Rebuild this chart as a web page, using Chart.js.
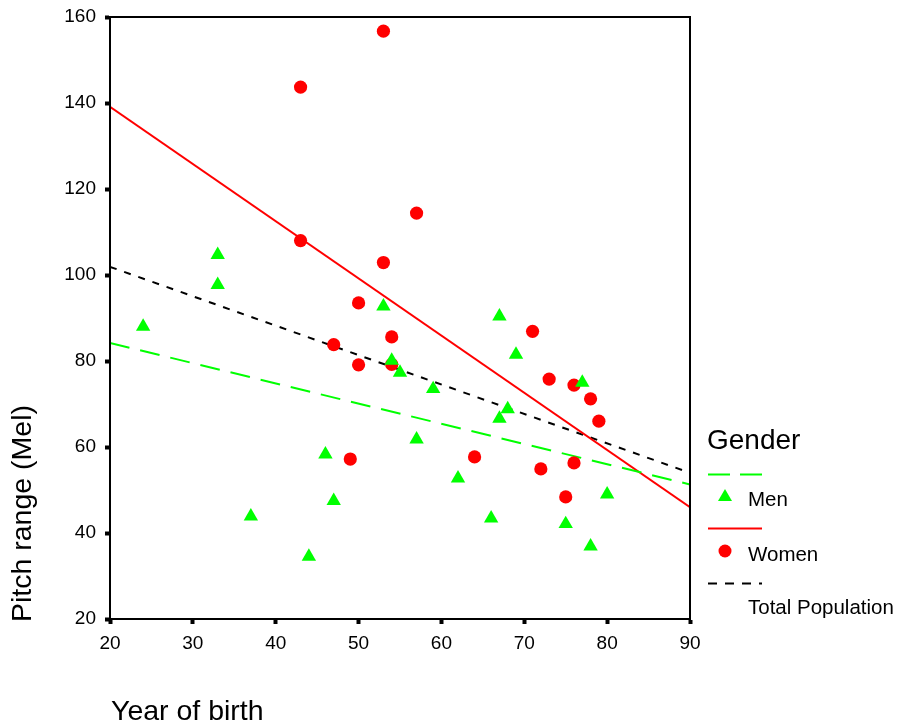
<!DOCTYPE html>
<html>
<head>
<meta charset="utf-8">
<script src="https://cdn.jsdelivr.net/npm/chart.js@4.4.1/dist/chart.umd.min.js"></script>
<style>
  html, body { margin: 0; padding: 0; background: #fff; }
  #wrap { width: 901px; height: 725px; position: relative; }
</style>
</head>
<body>
<div id="wrap"><canvas id="c" width="901" height="725"></canvas></div>
<script>
// ---- data ----
const menX = [24, 33, 33, 37, 44, 46, 47, 53, 54, 55, 57, 59, 62, 66, 67, 67, 68, 69, 75, 77, 78, 80];
const menY = [88.0, 104.7, 97.7, 43.9, 34.5, 58.3, 47.5, 92.7, 80.1, 77.3, 61.8, 73.5, 52.7, 43.4, 90.4, 66.6, 68.8, 81.5, 42.1, 75.0, 36.9, 49.0];
const womenX = [43, 53, 43, 53, 57, 50, 47, 50, 54, 54, 49, 64, 71, 73, 76, 78, 79, 72, 76, 75];
const womenY = [143.7, 156.7, 108.0, 102.9, 114.4, 93.5, 83.8, 79.1, 85.6, 79.2, 57.2, 57.7, 86.9, 75.8, 74.4, 71.2, 66.0, 54.9, 56.3, 48.4];
const fitX = [20, 90];
const menFit = [84.2, 51.3];
const womenFit = [139.1, 46.0];
const totalFit = [101.9, 54.0];
const xTicks = [20, 30, 40, 50, 60, 70, 80, 90];
const yTicks = [20, 40, 60, 80, 100, 120, 140, 160];
const legendTitle = 'Gender';
const legendLabels = ['Men', 'Women', 'Total Population'];
const xTitle = 'Year of birth';
const yTitle = 'Pitch range (Mel)';

const GREEN = '#00ff00';
const RED = '#ff0000';
const FONT = '"Liberation Sans", Arial, Helvetica, sans-serif';

const pts = (xs, ys) => xs.map((x, i) => ({ x: x, y: ys[i] }));

const overlay = {
  id: 'overlay',
  afterDraw(chart) {
    const ctx = chart.ctx;
    const a = chart.chartArea;
    ctx.save();
    // frame
    ctx.strokeStyle = '#000';
    ctx.lineWidth = 2;
    ctx.strokeRect(a.left, a.top, a.right - a.left, a.bottom - a.top);

    // axis titles
    ctx.fillStyle = '#000';
    ctx.font = '28.5px ' + FONT;
    ctx.textBaseline = 'middle';
    ctx.textAlign = 'left';
    ctx.fillText(xTitle, 111, 712);
    ctx.save();
    ctx.translate(23, 622);
    ctx.rotate(-Math.PI / 2);
    ctx.fillText(yTitle, 0, 0);
    ctx.restore();

    // legend
    const lx0 = 708, lx1 = 762;
    ctx.font = '28px ' + FONT;
    ctx.fillText(legendTitle, 707, 441);
    ctx.font = '20.5px ' + FONT;
    ctx.lineWidth = 2;
    // Men
    ctx.strokeStyle = GREEN;
    ctx.setLineDash([22, 10]);
    ctx.beginPath(); ctx.moveTo(lx0, 474.5); ctx.lineTo(lx1, 474.5); ctx.stroke();
    ctx.setLineDash([]);
    ctx.fillStyle = GREEN;
    ctx.beginPath();
    ctx.moveTo(725, 489); ctx.lineTo(732, 501); ctx.lineTo(718, 501); ctx.closePath(); ctx.fill();
    ctx.fillStyle = '#000';
    ctx.fillText(legendLabels[0], 748, 500);
    // Women
    ctx.strokeStyle = RED;
    ctx.beginPath(); ctx.moveTo(lx0, 528.5); ctx.lineTo(lx1, 528.5); ctx.stroke();
    ctx.fillStyle = RED;
    ctx.beginPath(); ctx.arc(725, 551, 6.5, 0, Math.PI * 2); ctx.fill();
    ctx.fillStyle = '#000';
    ctx.fillText(legendLabels[1], 748, 555);
    // Total
    ctx.strokeStyle = '#000';
    ctx.setLineDash([9, 8]);
    ctx.beginPath(); ctx.moveTo(lx0, 583.5); ctx.lineTo(lx1, 583.5); ctx.stroke();
    ctx.setLineDash([]);
    ctx.fillText(legendLabels[2], 748, 608);
    ctx.restore();
  }
};

new Chart(document.getElementById('c'), {
  type: 'scatter',
  data: {
    datasets: [
      {
        label: 'Men',
        data: pts(menX, menY),
        pointStyle: 'triangle',
        pointRadius: 8.3,
        pointBorderWidth: 0,
        backgroundColor: GREEN,
        borderColor: GREEN
      },
      {
        label: 'Women',
        data: pts(womenX, womenY),
        pointStyle: 'circle',
        pointRadius: 6.6,
        pointBorderWidth: 0,
        backgroundColor: RED,
        borderColor: RED
      },
      {
        type: 'line',
        label: 'Men fit',
        data: pts(fitX, menFit),
        borderColor: GREEN,
        borderWidth: 2,
        borderDash: [20, 11],
        pointRadius: 0,
        fill: false
      },
      {
        type: 'line',
        label: 'Women fit',
        data: pts(fitX, womenFit),
        borderColor: RED,
        borderWidth: 2,
        pointRadius: 0,
        fill: false
      },
      {
        type: 'line',
        label: 'Total fit',
        data: pts(fitX, totalFit),
        borderColor: '#000',
        borderWidth: 2,
        borderDash: [7, 8],
        pointRadius: 0,
        fill: false
      }
    ]
  },
  options: {
    responsive: false,
    animation: false,
    devicePixelRatio: 1,
    layout: { padding: { left: 0, top: 17, right: 211, bottom: 0 } },
    plugins: {
      legend: { display: false },
      tooltip: { enabled: false },
      title: { display: false }
    },
    scales: {
      x: {
        type: 'linear',
        min: 20, max: 90,
        afterFit(s) { s.height = 106; },
        afterBuildTicks(s) { s.ticks = xTicks.map(v => ({ value: v })); },
        grid: { drawOnChartArea: false, drawTicks: true, tickLength: 5, tickWidth: 4, tickColor: '#000' },
        border: { display: true, color: '#000', width: 2 },
        ticks: { color: '#000', font: { family: FONT, size: 19 }, padding: 8, maxRotation: 0 }
      },
      y: {
        type: 'linear',
        min: 20, max: 160,
        afterFit(s) { s.width = 110; },
        afterBuildTicks(s) { s.ticks = yTicks.map(v => ({ value: v })); },
        grid: { drawOnChartArea: false, drawTicks: true, tickLength: 5, tickWidth: 4, tickColor: '#000' },
        border: { display: true, color: '#000', width: 2 },
        ticks: { color: '#000', font: { family: FONT, size: 19, lineHeight: 0.8 }, padding: 9 }
      }
    }
  },
  plugins: [overlay]
});
</script>
</body>
</html>
